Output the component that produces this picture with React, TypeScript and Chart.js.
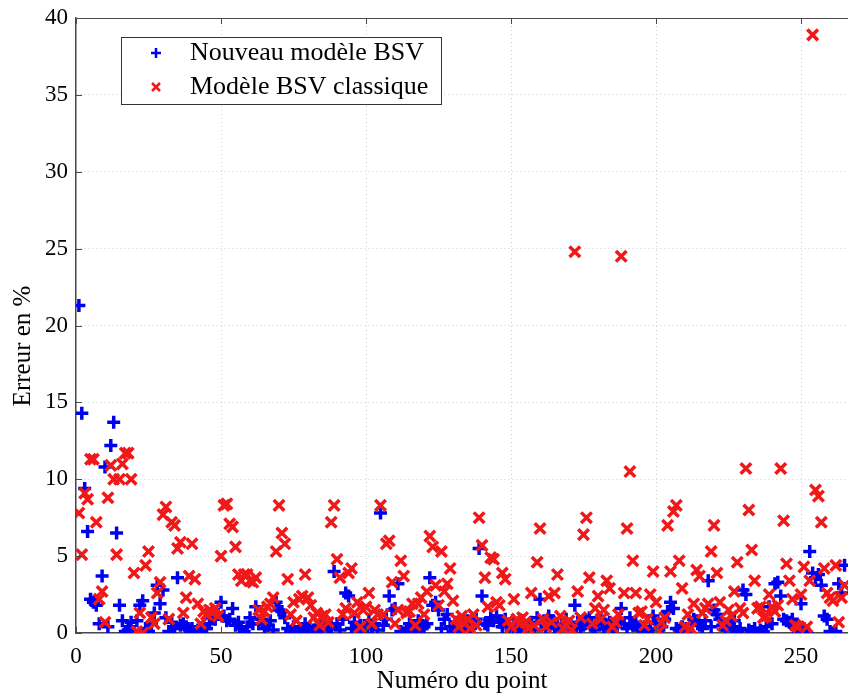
import React, { useEffect, useRef } from 'react';
import { Chart, registerables } from 'chart.js';

Chart.register(...registerables);

const SERIES_NAMES = ['Nouveau modèle BSV', 'Modèle BSV classique'];
const X_TITLE = 'Numéro du point';
const Y_TITLE = 'Erreur en %';
const X_TICKS = [0, 50, 100, 150, 200, 250];
const Y_TICKS = [0, 5, 10, 15, 20, 25, 30, 35, 40];

// Nouveau modèle BSV (blue +), point numbers 1..265
const NOUVEAU = [
  21.3, 14.3, 9.4, 6.6, 2.2, 2.0, 1.8, 0.6, 3.7, 10.8,
  0.4, 12.2, 13.7, 6.5, 1.8, 0.8, 0.1, 0.2, 0.7, 0.1,
  0.8, 1.8, 2.1, 0.3, 0.1, 0.6, 1.3, 3.1, 1.9, 2.8,
  1.0, 0.1, 0.7, 0.3, 3.6, 0.5, 0.6, 0.4, 0.2, 0.3,
  0.1, 0.2, 0.1, 0.4, 0.3, 0.6, 1.0, 0.9, 1.2, 2.0,
  1.1, 0.8, 0.9, 1.6, 0.5, 0.7, 0.3, 0.1, 0.4, 1.0,
  0.6, 1.7, 0.6, 0.9, 0.3, 0.5, 0.8, 0.2, 2.0, 1.5,
  1.4, 1.0, 0.3, 0.1, 0.4, 0.0, 0.2, 0.2, 0.6, 0.3,
  0.1, 0.2, 0.1, 0.5, 0.2, 0.8, 0.3, 0.4, 4.0, 0.6,
  0.2, 0.9, 2.6, 2.4, 0.3, 0.7, 0.2, 0.5, 0.1, 0.4,
  0.8, 0.3, 0.6, 0.2, 7.8, 0.5, 0.9, 2.4, 1.5, 1.6,
  3.2, 0.1, 0.0, 0.3, 0.6, 0.1, 0.2, 0.8, 0.3, 0.4,
  0.6, 3.6, 1.8, 2.0, 1.5, 0.3, 0.9, 1.2, 0.4, 0.1,
  0.7, 0.5, 0.2, 0.4, 0.8, 0.3, 0.6, 0.9, 5.5, 2.4,
  0.6, 0.5, 1.0, 0.8, 1.1, 0.7, 0.4, 0.9, 0.5, 0.2,
  0.6, 0.1, 0.4, 0.8, 0.3, 0.5, 0.7, 0.2, 1.0, 2.2,
  0.6, 0.4, 1.1, 0.8, 0.3, 0.5, 0.2, 0.6, 0.9, 0.4,
  0.1, 1.8, 0.7, 0.3, 0.5, 0.8, 1.0, 0.4, 0.2, 0.6,
  0.9, 0.3, 0.5, 0.7, 0.2, 0.4, 0.8, 1.6, 0.6, 0.3,
  1.0, 0.5, 0.7, 0.2, 0.2, 0.4, 0.1, 0.3, 1.1, 0.6,
  0.2, 0.4, 0.9, 1.4, 2.0, 1.6, 0.3, 0.2, 0.4, 0.1,
  0.2, 0.6, 0.9, 0.8, 0.5, 0.3, 0.8, 3.4, 0.4, 1.5,
  1.2, 0.9, 0.5, 0.2, 0.6, 0.3, 0.8, 0.1, 0.3, 2.8,
  2.5, 0.2, 0.1, 0.3, 0.0, 0.2, 0.1, 0.4, 1.7, 0.6,
  3.2, 3.3, 2.4, 0.9, 0.8, 0.7, 0.9, 0.4, 0.0, 1.9,
  0.3, 0.0, 5.3, 3.9, 3.6, 3.8, 3.1, 1.1, 0.9, 0.1,
  0.0, 0.1, 3.2, 2.6, 4.4,
];

// Modèle BSV classique (red x), point numbers 1..265
const CLASSIQUE = [
  7.8, 5.1, 9.1, 8.7, 11.3, 11.3, 7.2, 2.2, 2.7, 0.7,
  8.8, 10.9, 10.0, 5.1, 10.0, 11.0, 11.7, 11.7, 10.0, 3.9,
  0.1, 1.3, 0.0, 4.4, 5.3, 1.0, 0.6, 2.6, 3.3, 7.7,
  8.2, 0.9, 7.2, 7.0, 5.5, 5.9, 1.3, 2.3, 3.7, 5.8,
  3.5, 1.9, 0.6, 1.4, 1.2, 1.5, 1.3, 1.6, 1.1, 5.0,
  8.3, 8.4, 7.1, 6.9, 5.6, 3.8, 3.4, 3.8, 3.8, 3.4,
  3.3, 3.6, 1.5, 0.9, 1.4, 1.7, 1.9, 2.3, 5.3, 8.3,
  6.5, 5.8, 3.5, 1.2, 2.0, 0.8, 2.2, 2.4, 3.8, 2.3,
  1.8, 1.0, 1.3, 0.5, 1.1, 1.2, 0.7, 7.2, 8.3, 4.8,
  3.6, 1.2, 1.6, 3.9, 4.2, 1.3, 2.0, 0.4, 1.5, 1.7,
  2.6, 0.6, 1.5, 1.2, 8.3, 1.2, 5.8, 6.0, 3.3, 0.6,
  1.5, 4.7, 3.7, 1.3, 1.4, 1.9, 0.5, 1.9, 2.3, 1.2,
  2.7, 6.3, 5.6, 3.1, 1.8, 5.3, 2.7, 3.2, 4.2, 2.1,
  0.9, 0.4, 1.1, 0.6, 0.9, 0.3, 1.2, 0.5, 7.5, 5.7,
  3.6, 1.7, 4.9, 4.8, 2.0, 1.8, 3.9, 3.5, 0.8, 0.4,
  2.2, 0.9, 0.6, 1.0, 0.7, 0.3, 2.6, 0.5, 4.6, 6.8,
  0.9, 0.4, 2.4, 0.7, 2.6, 3.8, 1.1, 0.3, 0.5, 0.8,
  0.2, 24.8, 2.7, 1.0, 6.4, 7.5, 3.6, 0.6, 1.6, 2.4,
  0.9, 1.5, 3.4, 2.9, 0.4, 0.7, 1.2, 24.5, 2.6, 6.8,
  10.5, 4.7, 2.6, 1.3, 1.4, 0.5, 0.9, 2.5, 4.0, 2.0,
  0.1, 0.7, 1.0, 7.0, 4.0, 7.9, 8.3, 4.7, 2.9, 0.4,
  1.2, 0.3, 1.9, 4.1, 3.7, 1.3, 1.6, 1.9, 5.3, 7.0,
  3.9, 2.0, 0.5, 0.8, 1.5, 1.1, 2.7, 4.6, 1.6, 1.3,
  10.7, 8.0, 5.4, 3.4, 1.6, 1.7, 1.0, 1.1, 2.5, 1.7,
  1.4, 1.8, 10.7, 7.3, 4.5, 3.4, 2.2, 0.5, 0.4, 2.5,
  4.3, 0.4, 3.4, 38.9, 9.3, 8.9, 7.2, 4.2, 2.6, 2.3,
  2.1, 4.4, 0.7, 2.3, 3.1,
];

const BLUE = '#0000f0';
const RED = '#f01818';
const SERIF = '"Liberation Serif", "Times New Roman", Times, serif';
const AXIS_COLOR = '#4a4a4a';

const toPoints = (vals: number[]) => vals.map((v, i) => ({ x: i + 1, y: v }));

const framePlugin = {
  id: 'matlabFrame',
  afterDraw(chart: any) {
    const { ctx, chartArea } = chart;
    const { left, right, top, bottom } = chartArea;
    const xs = chart.scales.x;
    const ys = chart.scales.y;
    ctx.save();
    ctx.strokeStyle = AXIS_COLOR;
    ctx.lineWidth = 1;
    ctx.beginPath();
    ctx.moveTo(left, top + 0.5);
    ctx.lineTo(right, top + 0.5);
    const tl = 6;
    X_TICKS.forEach((t) => {
      const px = Math.round(xs.getPixelForValue(t)) + 0.5;
      ctx.moveTo(px, bottom);
      ctx.lineTo(px, bottom - tl);
      ctx.moveTo(px, top);
      ctx.lineTo(px, top + tl);
    });
    Y_TICKS.forEach((t) => {
      const py = Math.round(ys.getPixelForValue(t)) + 0.5;
      ctx.moveTo(left, py);
      ctx.lineTo(left + tl, py);
    });
    ctx.stroke();
    // y axis title
    ctx.fillStyle = '#000';
    ctx.font = `25px ${SERIF}`;
    ctx.textAlign = 'center';
    ctx.textBaseline = 'middle';
    ctx.translate(23, 346);
    ctx.rotate(-Math.PI / 2);
    ctx.fillText(Y_TITLE, 0, 0);
    ctx.restore();
  },
};

const legendPlugin = {
  id: 'insideLegend',
  afterDraw(chart: any) {
    const { ctx } = chart;
    ctx.save();
    const bx = 121.5, by = 37.5, bw = 320, bh = 67;
    ctx.fillStyle = '#ffffff';
    ctx.fillRect(bx, by, bw, bh);
    ctx.strokeStyle = '#333';
    ctx.lineWidth = 1;
    ctx.strokeRect(bx, by, bw, bh);
    const mx = 156;
    const rows = [53, 87];
    ctx.lineWidth = 2.5;
    ctx.strokeStyle = BLUE;
    ctx.beginPath();
    ctx.moveTo(mx - 5, rows[0]);
    ctx.lineTo(mx + 5, rows[0]);
    ctx.moveTo(mx, rows[0] - 5);
    ctx.lineTo(mx, rows[0] + 5);
    ctx.stroke();
    ctx.strokeStyle = RED;
    ctx.beginPath();
    ctx.moveTo(mx - 4, rows[1] - 4);
    ctx.lineTo(mx + 4, rows[1] + 4);
    ctx.moveTo(mx - 4, rows[1] + 4);
    ctx.lineTo(mx + 4, rows[1] - 4);
    ctx.stroke();
    ctx.fillStyle = '#000';
    ctx.font = `26px ${SERIF}`;
    ctx.textBaseline = 'middle';
    ctx.textAlign = 'left';
    ctx.fillText(SERIES_NAMES[0], 190, rows[0]);
    ctx.fillText(SERIES_NAMES[1], 190, rows[1]);
    ctx.restore();
  },
};

export default function App() {
  const canvasRef = useRef<HTMLCanvasElement | null>(null);

  useEffect(() => {
    document.body.style.margin = '0';
    document.body.style.overflow = 'hidden';
    const canvas = canvasRef.current;
    if (!canvas) return;
    const chart = new Chart(canvas, {
      type: 'scatter',
      data: {
        datasets: [
          {
            label: SERIES_NAMES[0],
            data: toPoints(NOUVEAU),
            pointStyle: 'cross',
            radius: 6.5,
            borderWidth: 3.5,
            borderColor: BLUE,
            backgroundColor: BLUE,
            order: 1,
          },
          {
            label: SERIES_NAMES[1],
            data: toPoints(CLASSIQUE),
            pointStyle: 'crossRot',
            radius: 7.5,
            borderWidth: 3.5,
            borderColor: RED,
            backgroundColor: RED,
            order: 0,
          },
        ],
      },
      options: {
        responsive: false,
        animation: false,
        layout: { autoPadding: false, padding: { top: 18, right: 0, left: 0, bottom: 0 } },
        plugins: {
          legend: { display: false },
          tooltip: { enabled: false },
        },
        scales: {
          x: {
            type: 'linear',
            min: 0,
            max: 266.2,
            afterFit: (s: any) => { s.height = 64; s.paddingLeft = 0; s.paddingRight = 0; },
            afterBuildTicks: (s: any) => { s.ticks = X_TICKS.map((v) => ({ value: v })); },
            ticks: {
              stepSize: 50,
              includeBounds: false,
              maxRotation: 0,
              padding: 10,
              color: '#000',
              font: { family: SERIF, size: 23 },
            },
            grid: { color: '#cfcfcf', drawTicks: false, lineWidth: 1 },
            border: { color: AXIS_COLOR, width: 1.5, dash: [1, 3] },
            title: {
              display: true,
              text: X_TITLE,
              color: '#000',
              font: { family: SERIF, size: 25 },
              padding: { top: 0, bottom: 1 },
            },
          },
          y: {
            type: 'linear',
            min: 0,
            max: 40,
            afterFit: (s: any) => { s.width = 76; s.paddingTop = 0; s.paddingBottom = 0; },
            afterBuildTicks: (s: any) => { s.ticks = Y_TICKS.map((v) => ({ value: v })); },
            ticks: {
              stepSize: 5,
              padding: 8,
              color: '#000',
              font: { family: SERIF, size: 23 },
            },
            grid: { color: '#cfcfcf', drawTicks: false, lineWidth: 1 },
            border: { color: AXIS_COLOR, width: 1.5, dash: [1, 3] },
            title: { display: false },
          },
        },
      },
      plugins: [framePlugin, legendPlugin],
    });
    return () => chart.destroy();
  }, []);

  return (
    <div style={{ position: 'fixed', left: 0, top: 0, width: 848, height: 697, background: '#fff' }}>
      <canvas ref={canvasRef} width={848} height={697} style={{ width: 848, height: 697, display: 'block' }} />
    </div>
  );
}
